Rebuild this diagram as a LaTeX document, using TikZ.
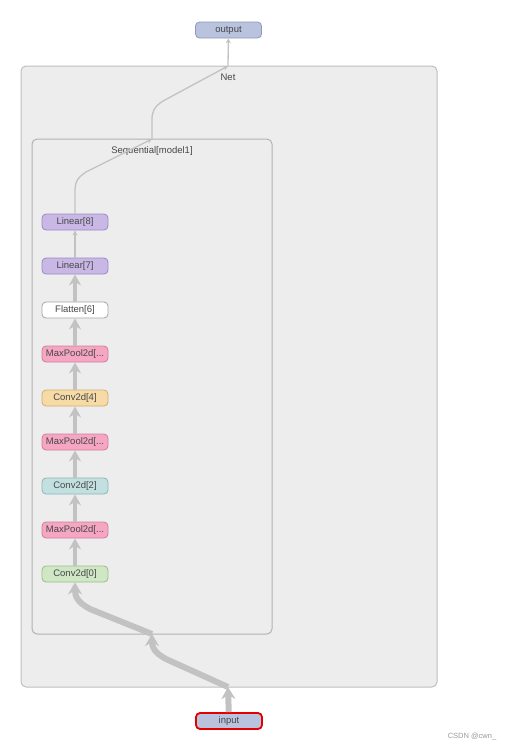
\documentclass[tikz,border=0pt]{standalone}
\usepackage{fontspec}
\setmainfont{Liberation Sans}
\usetikzlibrary{arrows.meta}

\definecolor{ioblue}{HTML}{B9C3DD}
\definecolor{ioline}{HTML}{8E9ABB}
\definecolor{linfill}{HTML}{C9B8E6}
\definecolor{linline}{HTML}{9C88C6}
\definecolor{poolfill}{HTML}{F4A6C2}
\definecolor{poolline}{HTML}{D37C9C}
\definecolor{convAfill}{HTML}{CFE7C4}
\definecolor{convAline}{HTML}{98BE8A}
\definecolor{convBfill}{HTML}{C3E0E1}
\definecolor{convBline}{HTML}{8FB5B7}
\definecolor{convCfill}{HTML}{F6DBA6}
\definecolor{convCline}{HTML}{CFAF70}
\definecolor{flowgrey}{HTML}{C2C2C2}

\begin{document}
\begin{tikzpicture}[x=1pt, y=-1pt,
    every node/.style={font=\fontsize{9.5}{11}\selectfont, text=black!72},
    layer/.style={draw, rounded corners=4pt, minimum width=66pt, minimum height=16pt, inner sep=0pt, line width=0.8pt},
    group/.style={draw=black!25, fill=black!7, rounded corners=5pt, line width=1pt},
    thinflow/.style={draw=flowgrey, line width=1.3pt, -{Stealth[length=5pt,width=5pt]}},
    midflow/.style={draw=flowgrey, line width=4pt, -{Stealth[length=11pt,width=12pt]}},
    bigflow/.style={draw=flowgrey, line width=6pt, line join=round, -{Stealth[length=12pt,width=14pt]}}
]
\useasboundingbox (0,0) rectangle (512,748);

% groups
\node[group, minimum width=416pt, minimum height=621pt] (net) at (229,376.5) {};
\node (netlabel) at (228,77) {Net};
\node[group, draw=black!30, minimum width=240pt, minimum height=495pt] (seq) at (152,386.5) {};
\node (seqlabel) at (152,151) {Sequential[model1]};

% in / out
\node[layer, fill=ioblue, draw=ioline] (output) at (228.5,30) {output};
\node[layer, fill=ioblue, draw=red!90!black, line width=1.8pt] (input) at (229,721) {input};

% layers
\node[layer, fill=linfill, draw=linline] (lin8) at (75,222) {Linear[8]};
\node[layer, fill=linfill, draw=linline] (lin7) at (75,266) {Linear[7]};
\node[layer, fill=white, draw=black!35] (flat6) at (75,310) {Flatten[6]};
\node[layer, fill=poolfill, draw=poolline] (pool5) at (75,354) {MaxPool2d[...};
\node[layer, fill=convCfill, draw=convCline] (conv4) at (75,398) {Conv2d[4]};
\node[layer, fill=poolfill, draw=poolline] (pool3) at (75,442) {MaxPool2d[...};
\node[layer, fill=convBfill, draw=convBline] (conv2) at (75,486) {Conv2d[2]};
\node[layer, fill=poolfill, draw=poolline] (pool1) at (75,530) {MaxPool2d[...};
\node[layer, fill=convAfill, draw=convAline] (conv0) at (75,574) {Conv2d[0]};

% ports on the group borders
\coordinate (netin) at (228,687);
\coordinate (seqin) at (152,634);
\coordinate (seqout) at (152,139);
\coordinate (netout) at (228,66);

% flows
\draw[bigflow] (input) -- (netin);
\draw[bigflow] (netin) -- (166,659) .. controls (153,652) and (152,646) .. (seqin);
\draw[bigflow] (seqin) -- (90,609) .. controls (77,602) and (75,596) .. (conv0.south);
\draw[midflow] (conv0) -- (pool1);
\draw[midflow] (pool1) -- (conv2);
\draw[midflow] (conv2) -- (pool3);
\draw[midflow] (pool3) -- (conv4);
\draw[midflow] (conv4) -- (pool5);
\draw[midflow] (pool5) -- (flat6);
\draw[midflow] (flat6) -- (lin7);
\draw[thinflow] (lin7) -- (lin8);
\draw[thinflow] (lin8.north) -- (75,192) .. controls (75,182) and (77,178) .. (86,172) -- (seqout);
\draw[thinflow] (seqout) -- (152,120) .. controls (152,111) and (154,107) .. (163,101) -- (netout);
\draw[thinflow] (netout) -- (output);

% watermark
\node[text=black!40, font=\fontsize{7.5}{9}\selectfont] (mark) at (472,737) {CSDN @cwn\_};
\end{tikzpicture}
\end{document}
